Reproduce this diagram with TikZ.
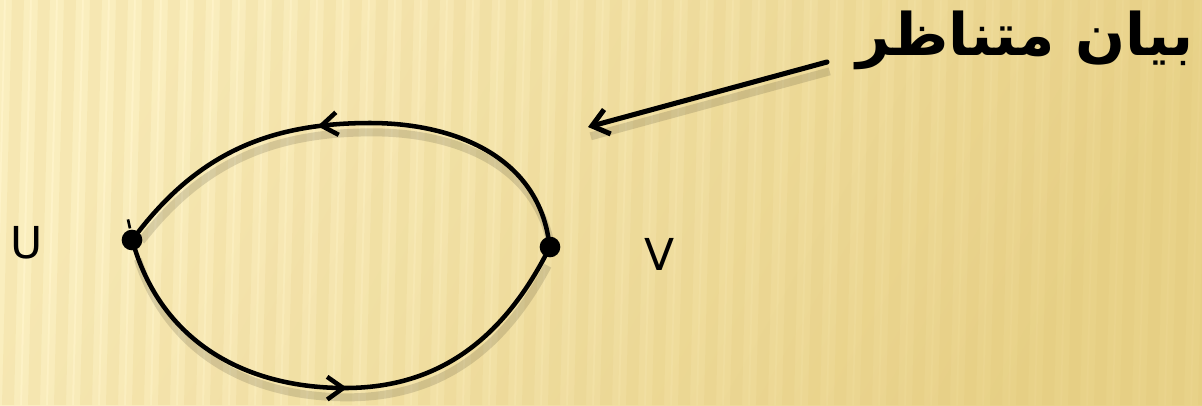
\documentclass[tikz,border=0pt]{standalone}
\usepackage{fontspec}
\setmainfont{DejaVu Sans}
\newfontfamily\arabicfont[Script=Arabic]{DejaVu Sans}
\TeXXeTstate=1
\usetikzlibrary{arrows.meta,decorations.markings}
\definecolor{paperlight}{RGB}{254,243,200}
\definecolor{paperdark}{RGB}{234,212,140}
\definecolor{stripe}{RGB}{222,194,110}

\tikzset{
  flowtip/.tip={Straight Barb[length=12pt,width=17pt]},
  dot/.style={circle, fill=black, inner sep=0pt, minimum size=15.5pt},
  vlabel/.style={font=\fontsize{33}{36}\selectfont},
  loopline/.style={line width=3.4pt, line cap=round},
  pointer/.style={line width=3.8pt, line cap=round, -{Straight Barb[length=12pt,width=19pt]}},
}

\begin{document}
\begin{tikzpicture}[x=0.75pt, y=-0.75pt]
  \useasboundingbox (0,0) rectangle (1202,405);

  % paper background
  \shade[top color=paperlight, bottom color=paperdark, shading angle=60]
    (0,0) rectangle (1202,405);
  \foreach \x in {-40,-14,...,1240} {
    \fill[stripe, opacity=0.10] (\x-6,0) -- ++(24,0) -- ++(-10,405) -- ++(-24,0) -- cycle;
    \fill[stripe, opacity=0.14] (\x,0) -- ++(12,0) -- ++(-10,405) -- ++(-12,0) -- cycle;
  }

  % vertices
  \node[dot] (u) at (132,240) {};
  \node[dot] (v) at (550,247) {};
  \coordinate (top) at (370,123);
  \coordinate (bot) at (345,388);
  \node[vlabel] (ulabel) at (27,243) {U};
  \node[vlabel] (vlabel) at (660,254) {V};

  % title and pointer
  \node[font=\fontsize{44}{50}\selectfont\bfseries] (title) at (1025,40)
    {\arabicfont\beginR بيان متناظر\endR};
  \coordinate (tail) at (827,62);
  \coordinate (head) at (588,127);

  % shadows
  \begin{scope}[transform canvas={shift={(2pt,-7pt)}}, opacity=0.13]
    \draw[line width=6pt] (v) to[out=100,in=0] (top) to[out=180,in=52] (u);
    \draw[line width=6pt] (u) to[out=-72,in=180] (bot) to[out=0,in=-118] (v);
    \draw[line width=6pt] (tail) -- (head);
  \end{scope}

  % edges
  \draw[loopline, decoration={markings, mark=at position 0.57 with {\arrow{flowtip}}},
    postaction=decorate] (v) to[out=100,in=0] (top) to[out=180,in=52] (u);
  \draw[loopline, decoration={markings, mark=at position 0.52 with {\arrow{flowtip}}},
    postaction=decorate] (u) to[out=-72,in=180] (bot) to[out=0,in=-118] (v);
  \draw[line width=2pt] (u.north) ++(-4,-10) -- ++(2,9);
  \draw[pointer] (tail) -- (head);
\end{tikzpicture}
\end{document}
